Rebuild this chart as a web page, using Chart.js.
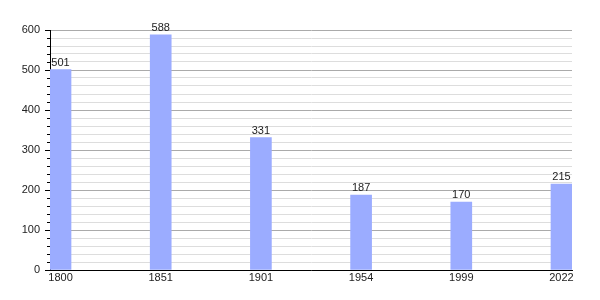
<!DOCTYPE html>
<html><head><meta charset="utf-8">
<script src="https://cdn.jsdelivr.net/npm/chart.js@4"></script>
<style>html,body{margin:0;padding:0;background:#fff}#w{width:600px;height:300px}</style>
</head><body><div id="w"><canvas id="c"></canvas></div>
<script>
const years = ['1800','1851','1901','1954','1999','2022'];
const population = [501, 588, 331, 187, 170, 215];
const yMax = 600;
const yMajorStep = 100;
const yMinorStep = 20;

const FONT = "'Liberation Sans', Arial, sans-serif";

const extras = {
  id: 'extras',
  afterDatasetsDraw(chart) {
    const ctx = chart.ctx;
    const meta = chart.getDatasetMeta(0);
    ctx.save();
    ctx.font = '11px ' + FONT;
    ctx.fillStyle = '#222';
    ctx.textAlign = 'center';
    ctx.textBaseline = 'alphabetic';
    meta.data.forEach((bar, i) => {
      ctx.fillText(String(population[i]), bar.x, bar.y - 4);
    });
    // y tick marks
    const ys = chart.scales.y;
    ctx.strokeStyle = '#000';
    ctx.lineWidth = 1;
    for (let v = 0; v <= yMax; v += yMinorStep) {
      const py = Math.round(ys.getPixelForValue(v)) + 0.5;
      const len = (v % yMajorStep === 0) ? 5 : 3;
      ctx.beginPath();
      ctx.moveTo(ys.right - len, py);
      ctx.lineTo(ys.right, py);
      ctx.stroke();
    }
    ctx.restore();
  }
};

new Chart(document.getElementById('c'), {
  type: 'bar',
  data: {
    datasets: [{
      data: population.map((v, i) => ({x: i, y: v})),
      backgroundColor: 'rgb(155,172,255)',
      borderWidth: 0,
      barThickness: 21
    }]
  },
  options: {
    responsive: true,
    maintainAspectRatio: false,
    animation: false,
    layout: {padding: {top: 30, right: 28, left: 0, bottom: 0}},
    plugins: {legend: {display: false}, tooltip: {enabled: false}},
    scales: {
      x: {
        type: 'linear',
        min: -0.105,
        max: 5.105,
        offset: false,
        afterFit(s) { s.height = 30; },
        afterBuildTicks(s) { s.ticks = years.map((y, i) => ({value: i})); },
        ticks: {
          autoSkip: false,
          maxRotation: 0,
          padding: 1,
          color: '#222',
          font: {family: FONT, size: 11},
          callback: (v) => years[v] !== undefined ? years[v] : ''
        },
        grid: {display: false, drawTicks: false},
        border: {display: true, color: '#000', width: 1}
      },
      y: {
        min: 0,
        max: yMax,
        afterFit(s) { s.width = 50; },
        ticks: {
          stepSize: yMinorStep,
          autoSkip: false,
          padding: 5,
          color: '#222',
          font: {family: FONT, size: 11},
          callback: (v) => (v % yMajorStep === 0) ? String(v) : ''
        },
        grid: {
          color: (c) => (c.tick && c.tick.value % yMajorStep === 0) ? '#aaaaaa' : '#dddddd',
          tickLength: 5,
          tickColor: 'rgba(0,0,0,0)'
        },
        border: {display: true, color: '#000', width: 1}
      }
    }
  },
  plugins: [extras]
});
</script></body></html>
